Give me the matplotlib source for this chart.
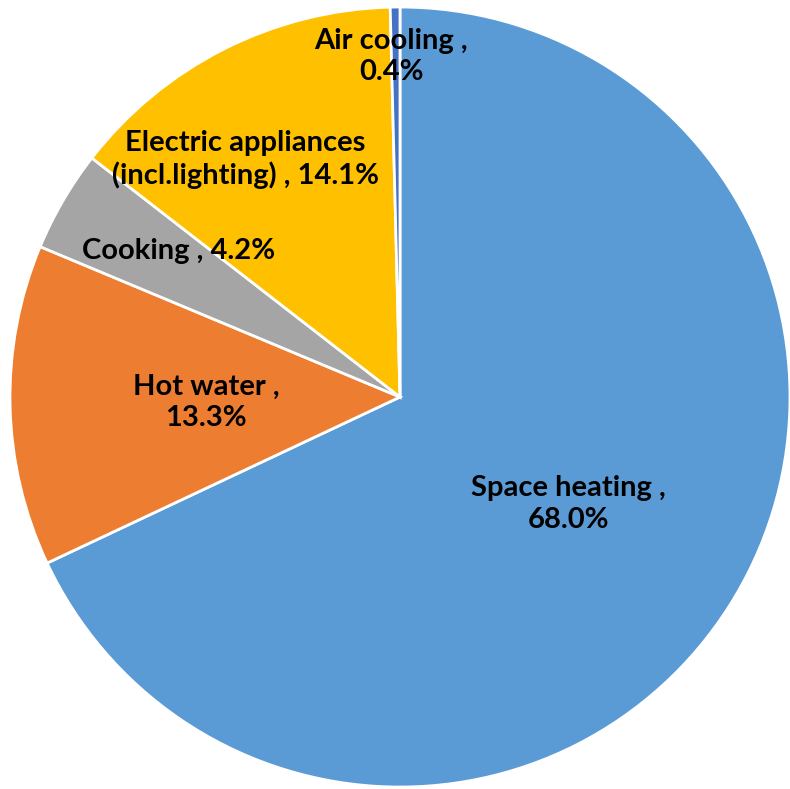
import matplotlib
matplotlib.use("Agg")
import matplotlib.pyplot as plt

# data
categories = ["Space heating", "Hot water", "Cooking",
              "Electric appliances\n(incl.lighting)", "Air cooling"]
shares = [68.0, 13.3, 4.2, 14.1, 0.4]
colors = ["#5B9BD5", "#ED7D31", "#A5A5A5", "#FFC000", "#4472C4"]
label_texts = ["Space heating ,\n68.0%", "Hot water ,\n13.3%", "Cooking , 4.2%",
               "Electric appliances\n(incl.lighting) , 14.1%", "Air cooling ,\n0.4%"]
label_pos = [(0.433, -0.274), (-0.497, -0.013), (-0.567, 0.374),
             (-0.397, 0.610), (-0.023, 0.874)]

fig = plt.figure(figsize=(7.9, 7.89), dpi=100)
ax = fig.add_axes([0, 0, 1, 1])

ax.pie(shares, colors=colors, startangle=90, counterclock=False,
       radius=1.0, wedgeprops=dict(edgecolor="white", linewidth=2))

for txt, (x, y) in zip(label_texts, label_pos):
    ax.text(x, y, txt, ha="center", va="center", fontsize=21,
            fontweight="bold", family="Lato", color="black", linespacing=1.25)

ax.set_xlim(-1.0256, 1.0)
ax.set_ylim(-1.005, 1.018)
ax.set_aspect("equal")
ax.axis("off")

fig.savefig("out.png", dpi=100)
